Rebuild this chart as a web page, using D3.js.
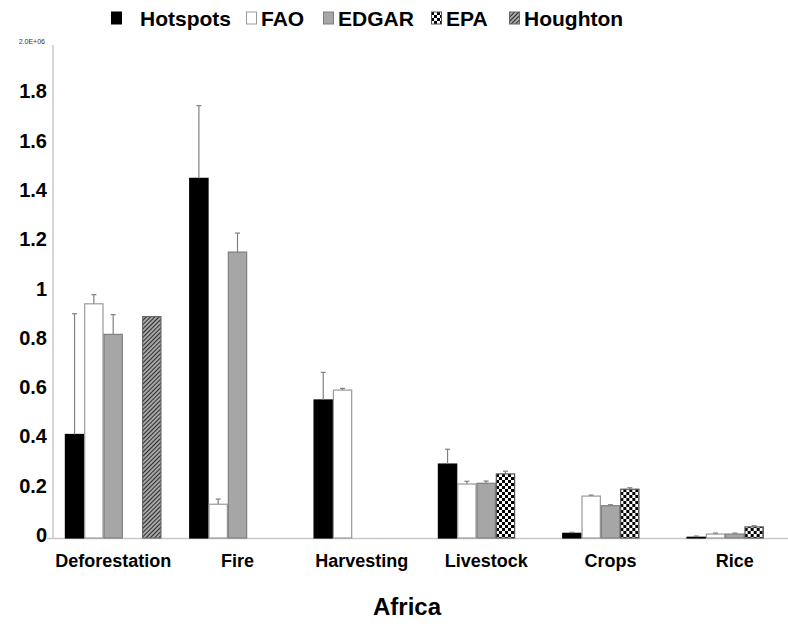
<!DOCTYPE html>
<html>
<head>
<meta charset="utf-8">
<script src="https://cdn.jsdelivr.net/npm/d3@7"></script>
<style>
    body { margin: 0; background: #fff; }
    text { font-family: "Liberation Sans", Arial, sans-serif; font-weight: bold; }
</style>
</head>
<body>
<div id="chart"></div>
<script>
// values in units of 1.0E+06
var categories = ['Deforestation', 'Fire', 'Harvesting', 'Livestock', 'Crops', 'Rice'];
var seriesNames = ['Hotspots', 'FAO', 'EDGAR', 'EPA', 'Houghton'];

var hotspots    = [0.42, 1.459, 0.56, 0.30, 0.019, 0.003];
var hotspotsErr = [0.49, 0.295, 0.112, 0.06, 0.004, 0.005];
var fao         = [0.95, 0.137, 0.60, 0.219, 0.17, 0.016];
var faoErr      = [0.037, 0.021, 0.007, 0.011, 0.004, 0.004];
var edgar       = [0.826, 1.16, null, 0.222, 0.131, 0.016];
var edgarErr    = [0.08, 0.077, null, 0.009, 0.004, 0.004];
var epa         = [null, null, null, 0.26, 0.198, 0.045];
var epaErr      = [null, null, null, 0.011, 0.006, 0.005];
var houghton    = [0.898, null, null, null, null, null];
var houghtonErr = [null, null, null, null, null, null];

var yTicks = [0, 0.2, 0.4, 0.6, 0.8, 1, 1.2, 1.4, 1.6, 1.8];
var yTickLabels = ['0', '0.2', '0.4', '0.6', '0.8', '1', '1.2', '1.4', '1.6', '1.8'];

var seriesValues = [hotspots, fao, edgar, epa, houghton];
var seriesErrors = [hotspotsErr, faoErr, edgarErr, epaErr, houghtonErr];

var width = 788, height = 626;

var svg = d3.select('#chart').append('svg')
    .attr('width', width)
    .attr('height', height);

var defs = svg.append('defs');

// checkerboard for EPA
var checker = defs.append('pattern')
    .attr('id', 'checker')
    .attr('patternUnits', 'userSpaceOnUse')
    .attr('width', 6).attr('height', 6);
checker.append('rect').attr('width', 6).attr('height', 6).attr('fill', '#fff');
checker.append('rect').attr('x', 0).attr('y', 0).attr('width', 3).attr('height', 3).attr('fill', '#000');
checker.append('rect').attr('x', 3).attr('y', 3).attr('width', 3).attr('height', 3).attr('fill', '#000');

// fine diagonal hatch for Houghton
var hatch = defs.append('pattern')
    .attr('id', 'hatch')
    .attr('patternUnits', 'userSpaceOnUse')
    .attr('width', 3).attr('height', 3)
    .attr('patternTransform', 'rotate(45)');
hatch.append('rect').attr('width', 3).attr('height', 3).attr('fill', '#a8a8a8');
hatch.append('line').attr('x1', 0).attr('y1', 0).attr('x2', 0).attr('y2', 3)
    .attr('stroke', '#2a2a2a').attr('stroke-width', 2);

var fills = ['#000', '#fff', '#a6a6a6', 'url(#checker)', 'url(#hatch)'];
var strokes = ['#000', '#999', '#7f7f7f', '#555', '#666'];

var y = d3.scaleLinear().domain([0, 2]).range([538, 45]);

var x0 = d3.scaleBand().domain(categories).range([51, 797]).padding(0);
var x1 = d3.scaleBand().domain(seriesNames).range([0, x0.bandwidth()])
    .paddingInner(0).paddingOuter(0.72);

// axes
svg.append('line')
    .attr('x1', 53).attr('x2', 53)
    .attr('y1', y(2)).attr('y2', y(0) + 1)
    .attr('stroke', '#c8c8c8').attr('stroke-width', 1.5);
svg.append('line')
    .attr('x1', 47).attr('x2', width)
    .attr('y1', y(0) + 0.5).attr('y2', y(0) + 0.5)
    .attr('stroke', '#c8c8c8').attr('stroke-width', 1.5);

svg.selectAll('.ytick')
    .data(yTicks)
    .enter()
    .append('text')
    .attr('class', 'ytick')
    .attr('x', 47)
    .attr('y', function (d) { return y(d) - 3; })
    .attr('dy', '0.35em')
    .attr('text-anchor', 'end')
    .attr('font-size', 20)
    .attr('fill', '#000')
    .text(function (d, i) { return yTickLabels[i]; });

svg.append('text')
    .attr('x', 45)
    .attr('y', y(2) - 1)
    .attr('text-anchor', 'end')
    .attr('font-size', 7)
    .style('font-weight', 'normal')
    .attr('fill', '#333')
    .text('2.0E+06');

// bars
var groups = svg.selectAll('.group')
    .data(categories)
    .enter()
    .append('g')
    .attr('class', 'group')
    .attr('transform', function (d) { return 'translate(' + x0(d) + ',0)'; });

seriesNames.forEach(function (name, s) {
    groups.each(function (cat, i) {
        var v = seriesValues[s][i];
        if (v == null) return;
        var g = d3.select(this);
        var bx = x1(name);
        g.append('rect')
            .attr('x', bx + 0.5)
            .attr('y', y(v))
            .attr('width', x1.bandwidth() - 1)
            .attr('height', y(0) - y(v))
            .attr('fill', fills[s])
            .attr('stroke', strokes[s])
            .attr('stroke-width', 1.2);

        var e = seriesErrors[s][i];
        if (e == null) return;
        var cx = bx + x1.bandwidth() / 2;
        g.append('line')
            .attr('x1', cx).attr('x2', cx)
            .attr('y1', y(v)).attr('y2', y(v + e))
            .attr('stroke', '#808080').attr('stroke-width', 1.2);
        g.append('line')
            .attr('x1', cx - 2.5).attr('x2', cx + 2.5)
            .attr('y1', y(v + e)).attr('y2', y(v + e))
            .attr('stroke', '#808080').attr('stroke-width', 1.2);
    });
});

// category labels
svg.selectAll('.xlabel')
    .data(categories)
    .enter()
    .append('text')
    .attr('class', 'xlabel')
    .attr('x', function (d) { return x0(d) + x0.bandwidth() / 2; })
    .attr('y', 567)
    .attr('text-anchor', 'middle')
    .attr('font-size', 18)
    .text(function (d) { return d; });

svg.append('text')
    .attr('x', 407)
    .attr('y', 615)
    .attr('text-anchor', 'middle')
    .attr('font-size', 24)
    .text('Africa');

// legend
var legendX = [111, 246, 323, 431, 509];
var legend = svg.selectAll('.legend')
    .data(seriesNames)
    .enter()
    .append('g')
    .attr('class', 'legend')
    .attr('transform', function (d, i) { return 'translate(' + legendX[i] + ',0)'; });

legend.append('rect')
    .attr('x', 0.5).attr('y', 12)
    .attr('width', 10).attr('height', 12)
    .attr('fill', function (d, i) { return fills[i]; })
    .attr('stroke', function (d, i) { return strokes[i]; })
    .attr('stroke-width', 1);

legend.append('text')
    .attr('x', function (d, i) { return i == 0 ? 29 : 15; })
    .attr('y', 26)
    .attr('font-size', 21)
    .text(function (d) { return d; });
</script>
</body>
</html>
